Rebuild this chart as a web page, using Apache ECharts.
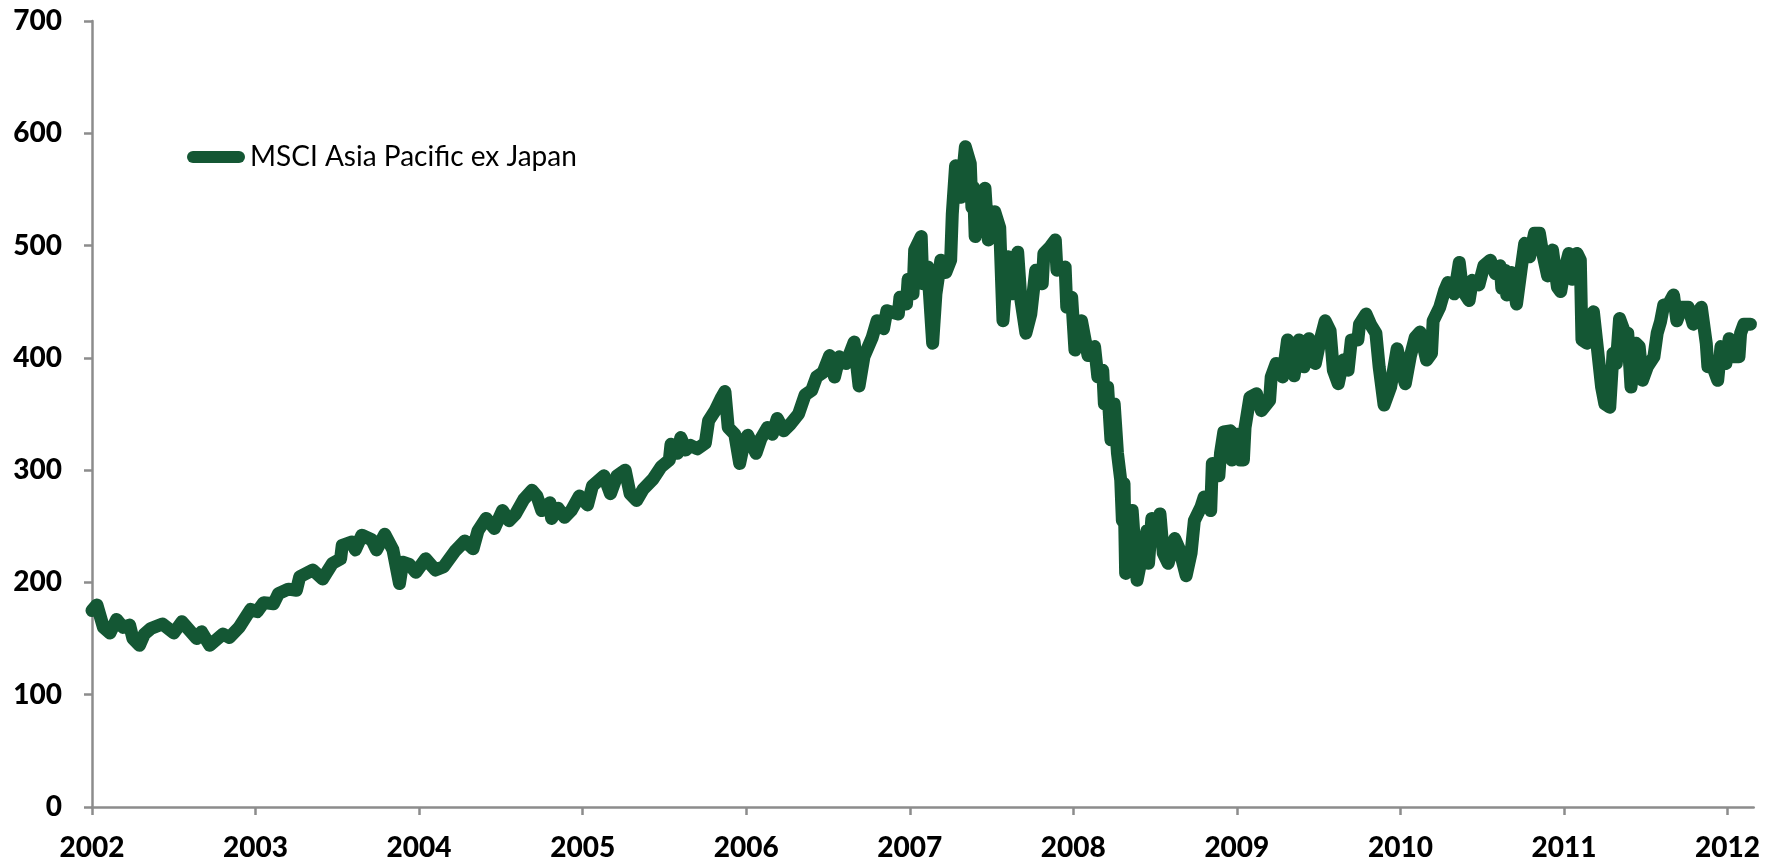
<!DOCTYPE html>
<html>
<head>
<meta charset="utf-8">
<title>MSCI Asia Pacific ex Japan</title>
<script src="https://cdn.jsdelivr.net/npm/echarts@6/dist/echarts.min.js"></script>
<style>
  html, body { margin: 0; padding: 0; background: #ffffff; }
  #chart { width: 1763px; height: 864px; }
</style>
</head>
<body>
<div id="chart"></div>
<script>
// Index level, sampled roughly fortnightly (time given as decimal year)
const seriesName = 'MSCI Asia Pacific ex Japan';

const dates = [
  2002.00, 2002.03, 2002.07, 2002.11, 2002.15, 2002.19, 2002.23, 2002.25, 2002.29, 2002.32,
  2002.36, 2002.43, 2002.50, 2002.55, 2002.64, 2002.67, 2002.72, 2002.80, 2002.84, 2002.90,
  2002.97, 2003.01, 2003.05, 2003.11, 2003.14, 2003.20, 2003.25, 2003.27, 2003.35, 2003.41,
  2003.47, 2003.52, 2003.53, 2003.59, 2003.61, 2003.65, 2003.71, 2003.74, 2003.79, 2003.84,
  2003.88, 2003.90, 2003.94, 2003.98, 2004.04, 2004.10, 2004.15, 2004.22, 2004.28, 2004.33,
  2004.36, 2004.41, 2004.46, 2004.51, 2004.55, 2004.59, 2004.64, 2004.69, 2004.72, 2004.75,
  2004.80, 2004.81, 2004.85, 2004.89, 2004.93, 2004.98, 2005.03, 2005.06, 2005.13, 2005.17,
  2005.21, 2005.26, 2005.29, 2005.33, 2005.37, 2005.43, 2005.48, 2005.53, 2005.54, 2005.58,
  2005.60, 2005.63, 2005.66, 2005.70, 2005.75, 2005.77, 2005.81, 2005.85, 2005.87, 2005.89,
  2005.93, 2005.96, 2005.99, 2006.01, 2006.06, 2006.09, 2006.13, 2006.16, 2006.19, 2006.23,
  2006.27, 2006.32, 2006.36, 2006.40, 2006.43, 2006.47, 2006.51, 2006.54, 2006.57, 2006.61,
  2006.66, 2006.69, 2006.72, 2006.77, 2006.80, 2006.84, 2006.86, 2006.93, 2006.94, 2006.98,
  2006.99, 2007.02, 2007.03, 2007.07, 2007.08, 2007.11, 2007.14, 2007.16, 2007.19, 2007.22,
  2007.25, 2007.26, 2007.28, 2007.31, 2007.34, 2007.37, 2007.38, 2007.39, 2007.40, 2007.43,
  2007.46, 2007.48, 2007.52, 2007.55, 2007.57, 2007.60, 2007.63, 2007.66, 2007.68, 2007.71,
  2007.74, 2007.77, 2007.81, 2007.82, 2007.86, 2007.89, 2007.90, 2007.95, 2007.96, 2007.99,
  2008.01, 2008.05, 2008.09, 2008.13, 2008.15, 2008.18, 2008.19, 2008.21, 2008.23, 2008.25,
  2008.27, 2008.29, 2008.30, 2008.31, 2008.32, 2008.36, 2008.39, 2008.45, 2008.46, 2008.48,
  2008.50, 2008.53, 2008.55, 2008.58, 2008.62, 2008.65, 2008.69, 2008.72, 2008.74, 2008.78,
  2008.80, 2008.84, 2008.85, 2008.89, 2008.90, 2008.92, 2008.96, 2008.97, 2009.00, 2009.02,
  2009.04, 2009.05, 2009.08, 2009.12, 2009.15, 2009.20, 2009.21, 2009.24, 2009.28, 2009.31,
  2009.35, 2009.38, 2009.41, 2009.44, 2009.48, 2009.51, 2009.54, 2009.57, 2009.59, 2009.62,
  2009.65, 2009.68, 2009.70, 2009.74, 2009.75, 2009.79, 2009.82, 2009.85, 2009.87, 2009.90,
  2009.94, 2009.98, 2010.01, 2010.03, 2010.06, 2010.09, 2010.12, 2010.16, 2010.19, 2010.20,
  2010.24, 2010.27, 2010.29, 2010.33, 2010.36, 2010.38, 2010.42, 2010.44, 2010.48, 2010.51,
  2010.55, 2010.58, 2010.61, 2010.62, 2010.64, 2010.65, 2010.68, 2010.71, 2010.74, 2010.76,
  2010.79, 2010.82, 2010.85, 2010.87, 2010.90, 2010.93, 2010.96, 2010.98, 2011.00, 2011.03,
  2011.05, 2011.08, 2011.10, 2011.11, 2011.14, 2011.18, 2011.21, 2011.23, 2011.25, 2011.28,
  2011.30, 2011.32, 2011.34, 2011.37, 2011.39, 2011.41, 2011.44, 2011.46, 2011.48, 2011.51,
  2011.55, 2011.57, 2011.59, 2011.61, 2011.64, 2011.67, 2011.69, 2011.72, 2011.76, 2011.79,
  2011.81, 2011.84, 2011.87, 2011.88, 2011.91, 2011.94, 2011.96, 2011.99, 2012.01, 2012.04,
  2012.07, 2012.08, 2012.10, 2012.14
];

const values = [
  175, 180, 160, 155, 167, 160, 162, 150, 144, 154,
  159, 163, 155, 165, 150, 156, 144, 154, 151, 160,
  176, 174, 182, 181, 190, 194, 193, 205, 211, 203,
  217, 221, 233, 236, 229, 242, 238, 229, 243, 229,
  199, 218, 216, 209, 221, 211, 214, 228, 237, 230,
  246, 257, 248, 264, 255, 261, 274, 282, 277, 264,
  271, 257, 266, 258, 264, 277, 269, 286, 295, 279,
  295, 300, 279, 273, 283, 292, 303, 309, 323, 315,
  329, 318, 322, 319, 324, 344, 353, 365, 370, 338,
  332, 306, 327, 331, 315, 328, 338, 332, 346, 335,
  341, 350, 367, 371, 383, 387, 402, 383, 401, 395,
  414, 375, 401, 418, 433, 426, 442, 439, 454, 448,
  470, 457, 496, 508, 466, 481, 413, 457, 487, 476,
  487, 528, 571, 543, 588, 573, 534, 552, 508, 540,
  551, 505, 530, 516, 433, 490, 457, 494, 451, 422,
  439, 478, 466, 493, 499, 505, 478, 481, 445, 454,
  407, 433, 402, 410, 383, 389, 359, 374, 327, 359,
  315, 291, 255, 288, 208, 264, 202, 246, 217, 257,
  238, 261, 226, 217, 239, 229, 206, 226, 255, 267,
  276, 264, 306, 295, 315, 334, 335, 309, 332, 309,
  309, 338, 365, 368, 353, 362, 383, 395, 383, 416,
  384, 416, 392, 417, 395, 416, 433, 424, 389, 377,
  398, 389, 416, 416, 430, 439, 429, 422, 392, 358,
  374, 408, 387, 377, 401, 418, 423, 398, 404, 433,
  445, 460, 467, 457, 485, 460, 451, 469, 465, 482,
  487, 475, 482, 462, 478, 456, 476, 448, 481, 502,
  490, 511, 511, 493, 473, 496, 463, 459, 476, 493,
  470, 493, 487, 416, 413, 441, 401, 374, 359, 356,
  404, 395, 435, 423, 422, 374, 413, 410, 380, 392,
  401, 422, 432, 447, 448, 456, 433, 445, 445, 430,
  439, 445, 413, 392, 392, 380, 410, 395, 417, 401,
  401, 422, 430, 430
];

// Axis ticks and labels
const yearTicks = [2002, 2003, 2004, 2005, 2006, 2007, 2008, 2009, 2010, 2011, 2012];
const yTicks = { min: 0, max: 700, step: 100 };
const xRange = { min: 2002, max: 2012.16 };

const lineColor = '#145734';
const axisColor = '#8c8c8c';
const fontFamily = 'Lato, "Open Sans", "Liberation Sans", sans-serif';

const chart = echarts.init(document.getElementById('chart'), null, { renderer: 'canvas' });

chart.setOption({
  animation: false,
  backgroundColor: '#ffffff',
  grid: { left: 92, right: 1, top: 21, bottom: 57, containLabel: false },
  legend: {
    left: 182,
    top: 135,
    itemWidth: 58,
    itemHeight: 12,
    icon: 'path://M6,0 H52 A6,6 0 0 1 52,12 H6 A6,6 0 0 1 6,0 Z',
    data: [seriesName],
    textStyle: { color: '#000000', fontFamily: fontFamily, fontSize: 28, lineHeight: 34 }
  },
  xAxis: {
    type: 'value',
    min: xRange.min,
    max: xRange.max,
    interval: 1,
    splitLine: { show: false },
    axisLine: { show: true, onZero: false, lineStyle: { color: axisColor, width: 2.5 } },
    axisTick: {
      show: true,
      customValues: yearTicks,
      length: 8,
      lineStyle: { color: axisColor, width: 2.5 }
    },
    axisLabel: {
      customValues: yearTicks,
      margin: 27,
      color: '#000000',
      fontFamily: fontFamily,
      fontWeight: 900,
      fontSize: 28,
      formatter: v => String(Math.round(v))
    }
  },
  yAxis: {
    type: 'value',
    min: yTicks.min,
    max: yTicks.max,
    interval: yTicks.step,
    splitLine: { show: false },
    axisLine: { show: true, lineStyle: { color: axisColor, width: 2.5 } },
    axisTick: { show: true, length: 8, lineStyle: { color: axisColor, width: 2.5 } },
    axisLabel: {
      margin: 30,
      color: '#000000',
      fontFamily: fontFamily,
      fontWeight: 900,
      fontSize: 28
    }
  },
  series: [{
    name: seriesName,
    type: 'line',
    data: dates.map((d, i) => [d, values[i]]),
    showSymbol: false,
    symbol: 'none',
    smooth: false,
    clip: true,
    lineStyle: { color: lineColor, width: 13, cap: 'round', join: 'round' },
    itemStyle: { color: lineColor }
  }]
});
</script>
</body>
</html>
